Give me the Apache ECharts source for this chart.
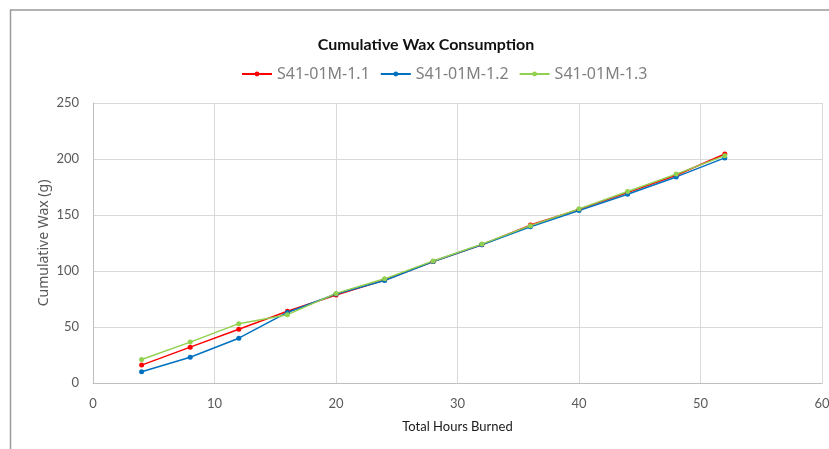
<!DOCTYPE html>
<html><head><meta charset="utf-8">
<script src="https://cdn.jsdelivr.net/npm/echarts@6/dist/echarts.min.js"></script>
<style>html,body{margin:0;padding:0;background:#fff}#c{width:829px;height:449px}</style>
</head><body><div id="c"></div>
<script>
const hours = [4, 8, 12, 16, 20, 24, 28, 32, 36, 40, 44, 48, 52];
const s11 = [16, 32, 48, 64, 78.5, 92, 108.5, 123.5, 141, 155, 170, 185.5, 204.5];
const s12 = [10, 23, 40, 63, 79.5, 91.5, 108.5, 123.5, 139.5, 154, 168.5, 184, 201];
const s13 = [21, 36.5, 53, 61, 80, 93, 109, 124, 140.5, 155.5, 171, 186.5, 203];
const names = ['S41-01M-1.1', 'S41-01M-1.2', 'S41-01M-1.3'];
const colors = ['#ff0000', '#0070c0', '#92d050'];
const chart = echarts.init(document.getElementById('c'));
function mk(name, vals, color) {
  return {
    name, type: 'line', data: hours.map((h, i) => [h, vals[i]]),
    symbol: 'circle', symbolSize: 5, color,
    lineStyle: { width: 1.5, color }, itemStyle: { color },
    animation: false
  };
}
chart.setOption({
  animation: false,
  graphic: [{ type: 'rect', left: 8, top: 7.5, shape: { width: 1000, height: 600 }, style: { fill: 'none', stroke: '#9a9a9a', lineWidth: 1.5 }, silent: true }],
  title: { text: 'Cumulative Wax Consumption', left: 421, textAlign: 'center', top: 32,
    textStyle: { fontFamily: 'Lato', fontWeight: 'bold', fontSize: 16, color: '#111111' } },
  legend: { top: 61, left: 236, itemWidth: 30, itemHeight: 6, itemGap: 10,
    textStyle: { fontFamily: 'Noto Sans', fontSize: 16, color: '#808080' }, data: names },
  grid: { left: 93, right: 7, top: 103, bottom: 66, outerBoundsMode: 'none', containLabel: false },
  xAxis: { type: 'value', min: 0, max: 60, interval: 10,
    name: 'Total Hours Burned', nameLocation: 'middle', nameGap: 37, nameMoveOverlap: false,
    nameTextStyle: { fontFamily: 'Lato', fontSize: 13, color: '#1a1a1a' },
    axisLine: { show: true, lineStyle: { color: '#bfbfbf' } }, axisTick: { show: false },
    axisLabel: { margin: 14, fontFamily: 'Lato', fontSize: 13, color: '#595959' },
    splitLine: { show: true, lineStyle: { color: '#d9d9d9' } } },
  yAxis: { type: 'value', min: 0, max: 250, interval: 50,
    name: 'Cumulative Wax (g)', nameLocation: 'middle', nameGap: 42, nameMoveOverlap: false,
    nameTextStyle: { fontFamily: 'Noto Sans', fontSize: 14, color: '#595959' },
    axisLine: { show: true, lineStyle: { color: '#bfbfbf' } }, axisTick: { show: false },
    axisLabel: { margin: 14, fontFamily: 'Lato', fontSize: 13, color: '#595959' },
    splitLine: { show: true, lineStyle: { color: '#d9d9d9' } } },
  series: [mk(names[0], s11, colors[0]), mk(names[1], s12, colors[1]), mk(names[2], s13, colors[2])]
});
</script></body></html>
